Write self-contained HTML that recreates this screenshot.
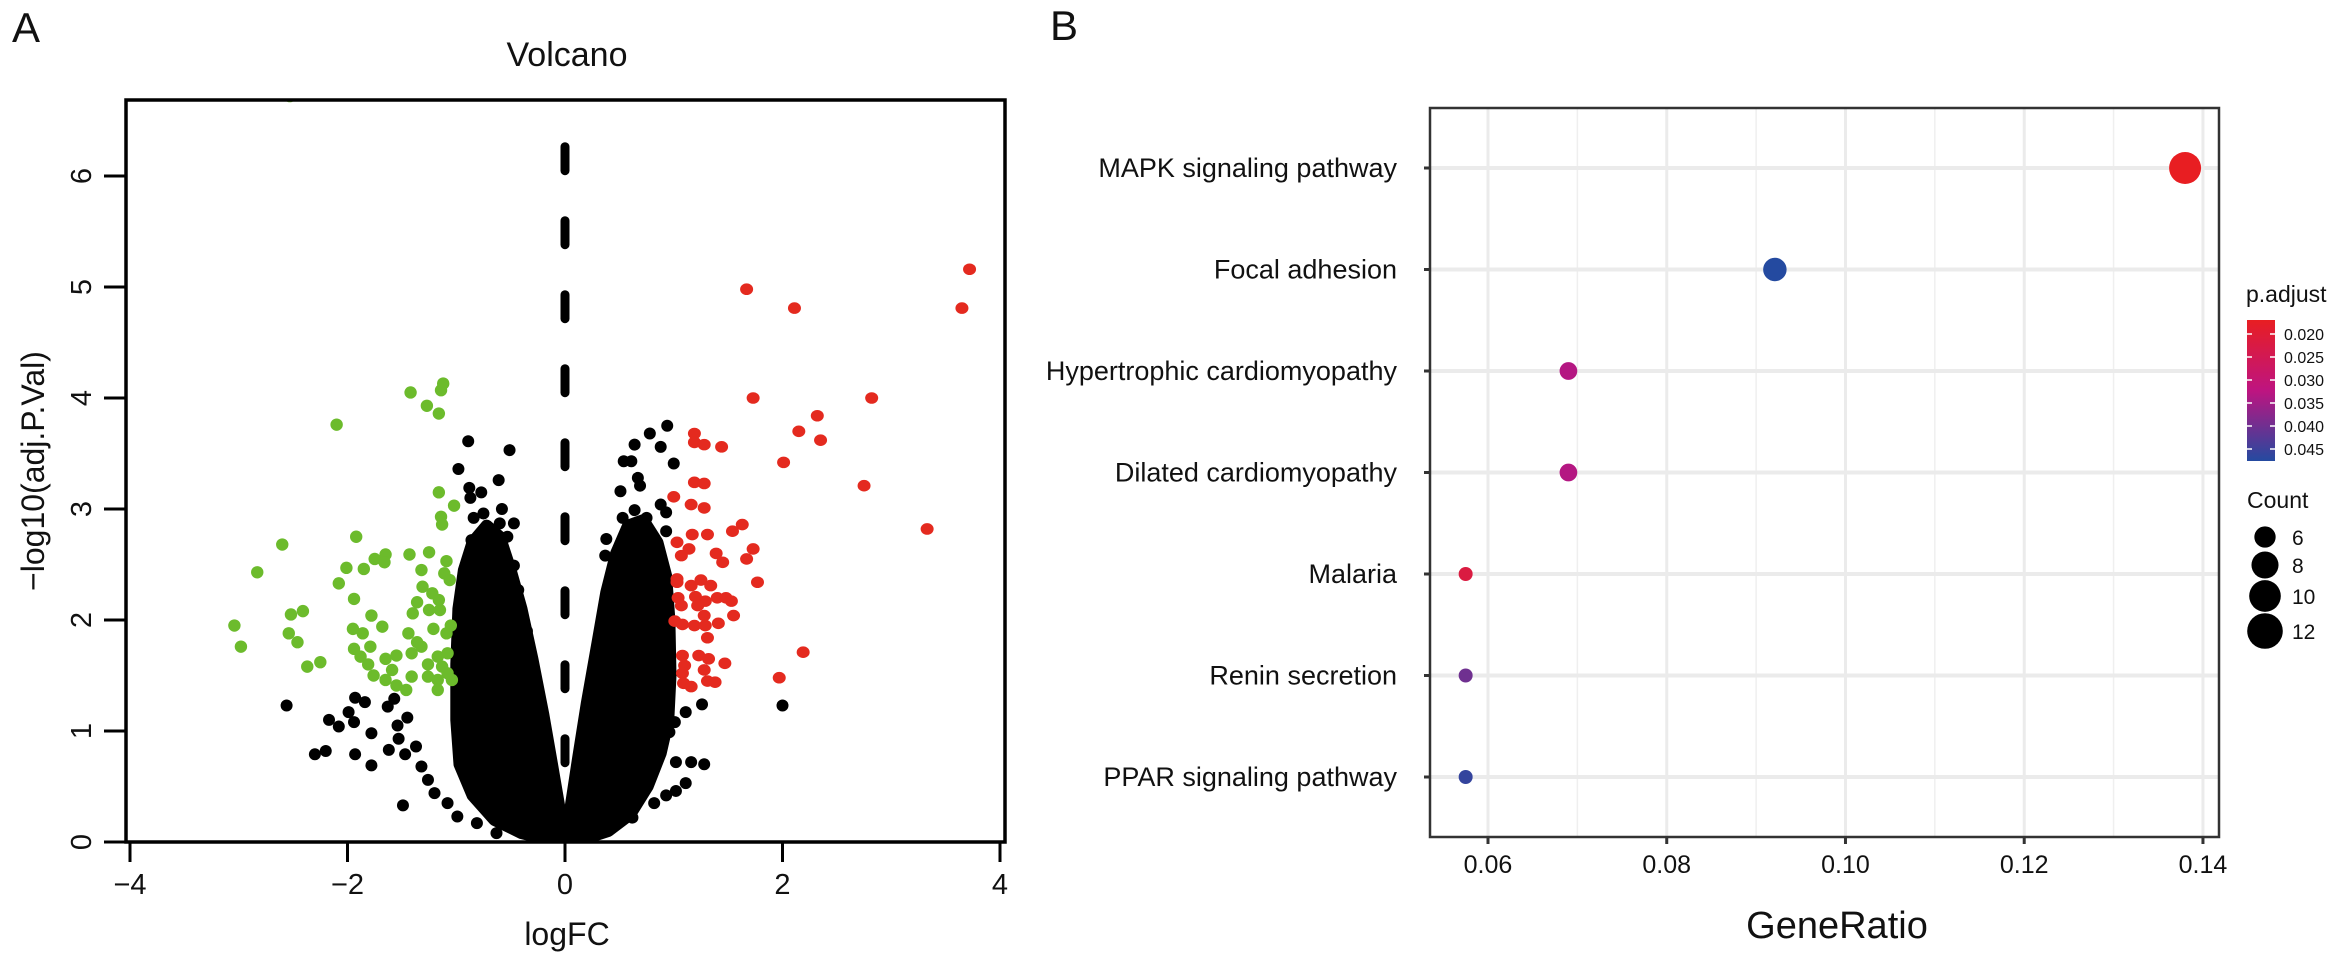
<!DOCTYPE html>
<html><head><meta charset="utf-8"><style>
html,body{margin:0;padding:0;background:#fff}
svg{display:block;font-family:"Liberation Sans",Arial,sans-serif}
</style></head><body>
<svg id="fig" width="2338" height="970" viewBox="0 0 2338 970" xmlns="http://www.w3.org/2000/svg">
<g id="panelA"></g>
<g id="panelB"></g>
</svg>
<script>
// ---------- Panel A data (logFC, -log10 adj.P) ----------
const xTicksA = [-4,-2,0,2,4];
const yTicksA = [0,1,2,3,4,5,6];
const upX = [3.72,1.67,2.11,3.65,1.73,2.82,2.32,2.15,2.35,2.01,2.75,3.33,2.19,1.97,
 1.19,1.19,1.28,1.44,1.19,1.28,1.0,1.16,1.28,1.17,1.31,1.54,1.63,1.73,1.67,1.03,1.14,1.07,1.39,1.45,1.77,1.03,1.03,1.16,1.25,1.34,1.04,1.20,1.29,1.40,1.48,1.53,1.07,1.22,1.01,1.08,1.19,1.28,1.29,1.41,1.55,1.31,1.08,1.23,1.32,1.47,1.10,1.28,1.08,1.09,1.16,1.31,1.38];
const upY = [5.16,4.98,4.81,4.81,4.0,4.0,3.84,3.70,3.62,3.42,3.21,2.82,1.71,1.48,
 3.68,3.60,3.58,3.56,3.24,3.23,3.11,3.04,3.01,2.77,2.77,2.80,2.86,2.64,2.55,2.70,2.64,2.58,2.60,2.52,2.34,2.37,2.34,2.31,2.36,2.31,2.20,2.21,2.17,2.20,2.20,2.17,2.13,2.13,1.99,1.96,1.95,2.04,1.95,1.97,2.04,1.84,1.68,1.68,1.65,1.61,1.59,1.55,1.52,1.43,1.40,1.45,1.44];
const downX = [-2.53,-1.42,-1.27,-1.16,-1.14,-1.12,-2.10,-1.16,-1.02,-1.14,-1.13,-2.60,-1.92,-2.83,-2.01,-1.85,-1.75,-1.65,-1.66,-1.43,-1.25,-1.09,-1.32,-1.11,-2.08,-1.31,-1.22,-1.06,-1.94,-1.36,-1.16,-1.25,-1.15,-2.52,-2.41,-1.78,-1.40,-3.04,-2.98,-2.54,-2.46,-1.95,-1.86,-1.68,-1.44,-1.36,-1.21,-1.09,-1.05,-2.37,-2.25,-1.94,-1.88,-1.79,-1.81,-1.76,-1.65,-1.55,-1.59,-1.65,-1.55,-1.46,-1.41,-1.41,-1.32,-1.26,-1.17,-1.08,-1.26,-1.17,-1.08,-1.04,-1.17,-1.13];
const downY = [6.72,4.05,3.93,3.86,4.07,4.13,3.76,3.15,3.03,2.93,2.86,2.68,2.75,2.43,2.47,2.46,2.55,2.59,2.52,2.59,2.61,2.53,2.45,2.42,2.33,2.30,2.24,2.36,2.19,2.16,2.18,2.09,2.09,2.05,2.08,2.04,2.06,1.95,1.76,1.88,1.80,1.92,1.88,1.94,1.88,1.80,1.92,1.88,1.95,1.58,1.62,1.74,1.67,1.76,1.60,1.50,1.65,1.68,1.55,1.46,1.41,1.37,1.49,1.70,1.76,1.60,1.67,1.70,1.49,1.46,1.52,1.46,1.37,1.58];
const nsX = [-0.89,-0.51,-0.98,-0.61,-0.88,-0.77,-0.87,-0.58,-0.75,-0.84,-0.47,-0.60,-0.71,-0.53,-0.86,-0.47,-0.43,-0.40,-0.35,-0.29,-0.26,-2.56,-2.30,-2.20,-2.17,-2.08,-1.99,-1.94,-1.93,-1.93,-1.78,-1.78,-1.84,-1.49,-1.62,-1.63,-1.57,-1.54,-1.53,-1.45,-1.47,-1.37,-1.32,-1.26,-1.20,-1.08,-0.99,-0.81,-0.63,
 0.94,0.78,0.64,0.88,0.54,0.61,1.0,0.67,0.69,0.51,0.88,0.64,0.53,0.75,0.93,0.38,0.37,0.93,1.26,1.28,1.16,1.02,1.11,1.02,0.93,0.82,0.62,1.11,1.01,0.96,0.87,2.0];
const nsY = [3.61,3.53,3.36,3.26,3.19,3.15,3.10,3.0,2.96,2.92,2.87,2.87,2.82,2.75,2.72,2.49,2.27,2.06,1.90,1.58,1.28,1.23,0.79,0.82,1.10,1.04,1.17,1.08,0.79,1.30,0.69,0.98,1.26,0.33,0.83,1.22,1.29,1.05,0.93,1.12,0.79,0.86,0.68,0.56,0.44,0.35,0.23,0.17,0.08,
 3.75,3.68,3.58,3.56,3.43,3.43,3.41,3.28,3.21,3.16,3.04,2.99,2.92,2.92,2.97,2.73,2.58,2.80,1.24,0.70,0.72,0.72,0.53,0.46,0.42,0.35,0.22,1.17,1.08,0.99,0.87,1.23];
// dense non-significant cores (outline of overlapping points)
const coreLeftX = [0.02,-0.15,-0.4,-0.65,-0.85,-0.97,-1.0,-1.0,-0.98,-0.93,-0.85,-0.72,-0.6,-0.5,-0.4,-0.3,-0.2,-0.12,-0.05];
const coreLeftY = [0,0.02,0.08,0.2,0.42,0.7,1.1,1.6,2.1,2.45,2.7,2.85,2.75,2.45,2.1,1.65,1.15,0.7,0.3];
const coreRightX = [-0.02,0.15,0.4,0.6,0.76,0.88,0.95,0.97,0.96,0.93,0.85,0.72,0.58,0.47,0.38,0.3,0.2,0.12,0.05];
const coreRightY = [0,0.02,0.1,0.25,0.5,0.8,1.1,1.5,2.0,2.4,2.7,2.9,2.85,2.6,2.25,1.8,1.25,0.75,0.3];
const dashTop = 6.3;

// ---------- Panel B data ----------
const terms = ["MAPK signaling pathway","Focal adhesion","Hypertrophic cardiomyopathy","Dilated cardiomyopathy","Malaria","Renin secretion","PPAR signaling pathway"];
const geneRatio = [0.138,0.0921,0.069,0.069,0.0575,0.0575,0.0575];
const counts = [12,8,6,6,5,5,5];
const padj = [0.017,0.0476,0.033,0.033,0.022,0.040,0.046];
const xTicksB = [0.06,0.08,0.10,0.12,0.14];
const xMinorB = [0.07,0.09,0.11,0.13];
const legendP = [0.020,0.025,0.030,0.035,0.040,0.045];
const legendCounts = [6,8,10,12];

const NS = "http://www.w3.org/2000/svg";
function mk(tag, attrs, parent, txt){
  const e = document.createElementNS(NS, tag);
  for (const k in attrs) e.setAttribute(k, attrs[k]);
  if (txt !== undefined) e.textContent = txt;
  parent.appendChild(e);
  return e;
}
// ===== Panel A =====
const A = document.getElementById('panelA');
const xA = v => 565 + v*108.75;
const yA = v => 842 - v*111;
const AL=126, AR=1005, AT=100, AB=842;
let t;
t = mk('text',{x:12,y:42,'font-size':42,fill:'#111'},A,'A');


t = mk('text',{x:567,y:66,'font-size':34,'text-anchor':'middle',fill:'#111'},A,'Volcano');


const clipA = mk('clipPath',{id:'clipA'},A);
mk('rect',{x:AL,y:AT,width:AR-AL,height:AB-AT},clipA);
const plotA = mk('g',{'clip-path':'url(#clipA)'},A);


function corePath(xs, ys){
  return xs.map((v,i)=>(i?'L':'M')+xA(v).toFixed(1)+','+yA(ys[i]).toFixed(1)).join(' ')+'Z';
}
let p = mk('path',{d:corePath(coreLeftX,coreLeftY),fill:'#000',stroke:'#000','stroke-width':12,'stroke-linejoin':'round'},plotA);


p = mk('path',{d:corePath(coreRightX,coreRightY),fill:'#000',stroke:'#000','stroke-width':12,'stroke-linejoin':'round'},plotA);


nsX.forEach((v,i)=>{
  const c = mk('circle',{cx:xA(v),cy:yA(nsY[i]),r:6,fill:'#000'},plotA);
  
  
});
downX.forEach((v,i)=>{
  const c = mk('circle',{cx:xA(v),cy:yA(downY[i]),r:6.2,fill:'#6cbb2c'},plotA);
  
  
});
upX.forEach((v,i)=>{
  const c = mk('ellipse',{cx:xA(v),cy:yA(upY[i]),rx:6.5,ry:5.8,fill:'#e42a1f'},plotA);
  
  
});
let dl = mk('line',{x1:xA(0),x2:xA(0),y1:yA(dashTop)+4,y2:AB,stroke:'#000','stroke-width':9,'stroke-dasharray':'24 50','stroke-linecap':'round'},plotA);


let fr = mk('rect',{x:AL,y:AT,width:AR-AL,height:AB-AT,fill:'none',stroke:'#000','stroke-width':3.5},A);


xTicksA.forEach(v=>{
  const l = mk('line',{x1:xA(v),x2:xA(v),y1:AB,y2:AB+20,stroke:'#000','stroke-width':3},A);
  
  
  const tx = mk('text',{x:xA(v),y:AB+52,'font-size':29,'text-anchor':'middle',fill:'#111'},A,(v<0?'\u2212':'')+Math.abs(v));
  
  
});
mk('line',{x1:xA(-4),x2:xA(4),y1:AB,y2:AB,stroke:'#000','stroke-width':3},A);
yTicksA.forEach(v=>{
  const l = mk('line',{x1:AL-22,x2:AL,y1:yA(v),y2:yA(v),stroke:'#000','stroke-width':3},A);
  
  
  const tx = mk('text',{x:0,y:0,'font-size':29,'text-anchor':'middle',fill:'#111',transform:`translate(${AL-35},${yA(v)}) rotate(-90)`},A,String(v));
  
  
});
t = mk('text',{x:567,y:945,'font-size':32,'text-anchor':'middle',fill:'#111'},A,'logFC');


t = mk('text',{x:0,y:0,'font-size':32,'text-anchor':'middle',fill:'#111',transform:'translate(44,471) rotate(-90)'},A,'\u2212log10(adj.P.Val)');



// ===== Panel B =====
const B = document.getElementById('panelB');
const BL=1430, BR=2219, BT=108, BB=837;
const xB = v => 1488 + (v-0.06)*8937;
const yB = i => 168 + i*101.5;
function lerp(a,b,t){return a+(b-a)*t;}
function pColor(pv){
  const stops=[[0.017,[232,30,34]],[0.032,[190,20,128]],[0.0476,[36,74,160]]];
  if (pv<=stops[0][0]) return 'rgb('+stops[0][1]+')';
  for (let i=0;i<stops.length-1;i++){
    if (pv<=stops[i+1][0]){
      const t=(pv-stops[i][0])/(stops[i+1][0]-stops[i][0]);
      const c=stops[i][1].map((x,k)=>Math.round(lerp(x,stops[i+1][1][k],t)));
      return 'rgb('+c.join(',')+')';
    }
  }
  return 'rgb('+stops[2][1]+')';
}
function rSize(c){ return Math.sqrt(49 + (256-49)*(c-5)/7); }
t = mk('text',{x:1050,y:40,'font-size':42,fill:'#111'},B,'B');


xMinorB.forEach(v=>{
  const l=mk('line',{x1:xB(v),x2:xB(v),y1:BT,y2:BB,stroke:'#efefef','stroke-width':1.5},B);
  
  
});
xTicksB.forEach(v=>{
  const l=mk('line',{x1:xB(v),x2:xB(v),y1:BT,y2:BB,stroke:'#ebebeb','stroke-width':3},B);
  
  
});
terms.forEach((s,i)=>{
  const l=mk('line',{x1:BL,x2:BR,y1:yB(i),y2:yB(i),stroke:'#ebebeb','stroke-width':4},B);
  
  
});
terms.forEach((s,i)=>{
  const c=mk('circle',{cx:xB(geneRatio[i]),cy:yB(i),r:rSize(counts[i]),fill:pColor(padj[i])},B);
  
  
  const tk=mk('line',{x1:BL-6,x2:BL,y1:yB(i),y2:yB(i),stroke:'#333','stroke-width':3},B);
  
  
  const tx=mk('text',{x:1397,y:yB(i)+9,'font-size':27,'text-anchor':'end',fill:'#111'},B,s);
  
  
});
fr = mk('rect',{x:BL,y:BT,width:BR-BL,height:BB-BT,fill:'none',stroke:'#333','stroke-width':2.5},B);


xTicksB.forEach(v=>{
  const l=mk('line',{x1:xB(v),x2:xB(v),y1:BB,y2:BB+7,stroke:'#333','stroke-width':3},B);
  
  
  const tx=mk('text',{x:xB(v),y:BB+36,'font-size':25,'text-anchor':'middle',fill:'#111'},B,v.toFixed(2));
  
  
});
t = mk('text',{x:1837,y:938,'font-size':38,'text-anchor':'middle',fill:'#111'},B,'GeneRatio');


// legend: p.adjust colorbar
const legP = mk('g',{},B);


t = mk('text',{x:2246,y:302,'font-size':23,fill:'#111'},legP,'p.adjust');


const defs = mk('defs',{},B);
const gr = mk('linearGradient',{id:'pgrad',x1:0,y1:0,x2:0,y2:1},defs);
mk('stop',{offset:'0',     'stop-color':pColor(0.017)},gr);
mk('stop',{offset:'0.5',   'stop-color':pColor(0.032)},gr);
mk('stop',{offset:'1',     'stop-color':pColor(0.0476)},gr);
const cbY = v => 334 + (v-0.020)*4600;
let cb = mk('rect',{x:2247,y:320,width:28,height:141,fill:'url(#pgrad)'},legP);


legendP.forEach(v=>{
  mk('line',{x1:2247,x2:2252,y1:cbY(v),y2:cbY(v),stroke:'#fff','stroke-width':1.5},legP);
  mk('line',{x1:2270,x2:2275,y1:cbY(v),y2:cbY(v),stroke:'#fff','stroke-width':1.5},legP);
  const tx=mk('text',{x:2284,y:cbY(v)+6,'font-size':16,fill:'#111'},legP,v.toFixed(3));
  
  
});
// legend: Count
const legC = mk('g',{},B);


t = mk('text',{x:2247,y:508,'font-size':23,fill:'#111'},legC,'Count');


const legCY = [537,565,596,631];
legendCounts.forEach((c,i)=>{
  const ci=mk('circle',{cx:2265,cy:legCY[i],r:rSize(c)+1.8,fill:'#000'},legC);
  
  
  const tx=mk('text',{x:2292,y:legCY[i]+8,'font-size':21,fill:'#111'},legC,String(c));
  
  
});
</script>
</body></html>
